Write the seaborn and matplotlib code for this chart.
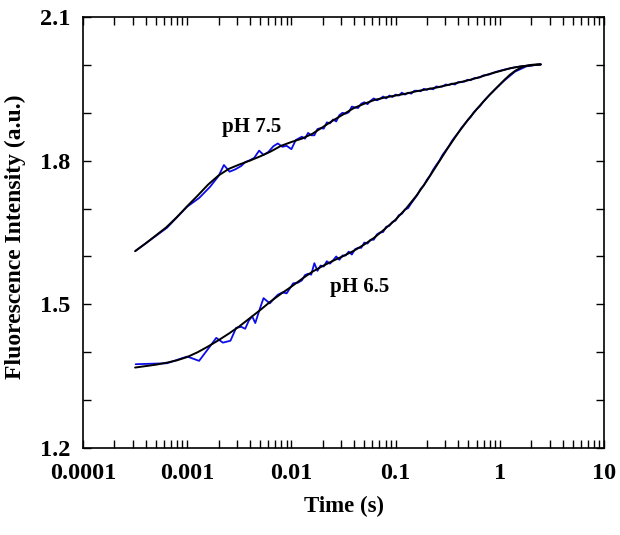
import numpy as np
import pandas as pd
import matplotlib
matplotlib.use("Agg")
import matplotlib.pyplot as plt
from matplotlib.ticker import LogLocator, FixedLocator, NullFormatter, MultipleLocator
import seaborn as sns

# ---------------- data ----------------
# fitted curves (black), sampled in time (s)
t_fit = [0.000316, 0.000398, 0.000501, 0.000631, 0.000794, 0.001, 0.001259, 0.001585,
         0.001995, 0.002512, 0.003162, 0.003981, 0.005012, 0.006310, 0.007943, 0.01,
         0.01259, 0.01585, 0.01995, 0.02512, 0.03162, 0.03981, 0.05012, 0.06310,
         0.07943, 0.1, 0.1259, 0.1585, 0.1995, 0.2512, 0.3162, 0.3981, 0.5012,
         0.6310, 0.7943, 1.0, 1.122, 1.259, 1.413, 1.585, 1.778, 1.995, 2.239, 2.47]
fit_75 = [1.611, 1.627, 1.644, 1.661, 1.682, 1.705, 1.727, 1.750, 1.769, 1.783, 1.792,
          1.800, 1.809, 1.819, 1.831, 1.839, 1.846, 1.856, 1.870, 1.884, 1.897, 1.910,
          1.919, 1.927, 1.932, 1.936, 1.940, 1.945, 1.949, 1.953, 1.958, 1.963, 1.968,
          1.974, 1.981, 1.987, 1.990, 1.993, 1.995, 1.997, 1.998, 1.999, 2.000, 2.001]
fit_65 = [1.368, 1.371, 1.374, 1.378, 1.383, 1.390, 1.400, 1.412, 1.425, 1.439, 1.454,
          1.471, 1.488, 1.506, 1.522, 1.537, 1.553, 1.568, 1.580, 1.591, 1.601, 1.612,
          1.625, 1.640, 1.658, 1.677, 1.700, 1.727, 1.758, 1.792, 1.826, 1.858, 1.887,
          1.913, 1.937, 1.959, 1.970, 1.980, 1.988, 1.994, 1.998, 2.000, 2.001, 2.001]

# measured traces (blue)
t_early_75 = [0.00032, 0.00064, 0.0010, 0.0013, 0.00165, 0.0020, 0.00225, 0.00255,
              0.0029, 0.0033, 0.0036, 0.0040, 0.0044, 0.0049, 0.0054, 0.0060, 0.0067,
              0.0074, 0.0082, 0.0090, 0.0100, 0.0110]
y_early_75 = [1.612, 1.660, 1.704, 1.722, 1.745, 1.768, 1.791, 1.777, 1.782, 1.789,
              1.797, 1.801, 1.806, 1.821, 1.812, 1.818, 1.830, 1.836, 1.829, 1.831,
              1.824, 1.843]
t_early_65 = [0.00032, 0.00064, 0.0010, 0.0013, 0.0016, 0.0019, 0.0022, 0.0026,
              0.00295, 0.0033, 0.0036, 0.0039, 0.0042, 0.0045, 0.0050, 0.0054, 0.0062,
              0.0068, 0.0074, 0.0082, 0.0090, 0.0104, 0.0115]
y_early_65 = [1.375, 1.377, 1.391, 1.382, 1.408, 1.430, 1.420, 1.424, 1.451, 1.453,
              1.449, 1.466, 1.475, 1.461, 1.492, 1.513, 1.502, 1.512, 1.520, 1.525,
              1.523, 1.544, 1.545]
t_dense = [0.01259, 0.01349, 0.01445, 0.01549, 0.01660, 0.01778, 0.01905, 0.02042,
           0.02188, 0.02344, 0.02512, 0.02692, 0.02884, 0.03090, 0.03311, 0.03548,
           0.03802, 0.04074, 0.04365, 0.04677, 0.05012, 0.05370, 0.05754, 0.06166,
           0.06607, 0.07079, 0.07586, 0.08128, 0.08710, 0.09333, 0.1000, 0.1072,
           0.1148, 0.1230, 0.1318, 0.1413, 0.1514, 0.1622, 0.1738, 0.1862, 0.1995,
           0.2138, 0.2291, 0.2455, 0.2630, 0.2818, 0.3020, 0.3236, 0.3467, 0.3715,
           0.3981, 0.4266, 0.4571, 0.4898, 0.5248, 0.5623, 0.6026, 0.6457, 0.6918,
           0.7413, 0.7943]
y_dense_75 = [1.850, 1.846, 1.858, 1.853, 1.853, 1.866, 1.868, 1.867, 1.880, 1.878,
              1.886, 1.882, 1.895, 1.900, 1.898, 1.901, 1.913, 1.911, 1.910, 1.919,
              1.922, 1.918, 1.925, 1.930, 1.926, 1.929, 1.934, 1.930, 1.936, 1.933,
              1.938, 1.936, 1.942, 1.938, 1.942, 1.940, 1.946, 1.946, 1.945, 1.950,
              1.948, 1.951, 1.949, 1.955, 1.954, 1.955, 1.959, 1.958, 1.961, 1.959,
              1.964, 1.964, 1.965, 1.969, 1.968, 1.972, 1.973, 1.974, 1.978, 1.979,
              1.980]
y_dense_65 = [1.550, 1.561, 1.564, 1.562, 1.586, 1.570, 1.581, 1.579, 1.590, 1.585,
              1.592, 1.600, 1.593, 1.602, 1.602, 1.610, 1.604, 1.615, 1.618, 1.618,
              1.629, 1.627, 1.635, 1.635, 1.646, 1.650, 1.651, 1.662, 1.664, 1.672,
              1.675, 1.686, 1.689, 1.698, 1.701, 1.711, 1.720, 1.729, 1.741, 1.748,
              1.760, 1.769, 1.781, 1.791, 1.800, 1.812, 1.821, 1.830, 1.841, 1.850,
              1.858, 1.868, 1.876, 1.884, 1.891, 1.901, 1.908, 1.914, 1.923, 1.930,
              1.937]
t_tail = [0.9, 1.1, 1.4, 1.8, 2.2, 2.47]
y_tail_75 = [1.985, 1.990, 1.995, 1.998, 2.000, 2.001]
y_tail_65 = [1.949, 1.967, 1.986, 1.997, 2.000, 2.001]

series_labels = ["pH 7.5", "pH 6.5"]
x_tick_vals = [0.0001, 0.001, 0.01, 0.1, 1, 10]
x_tick_labels = ["0.0001", "0.001", "0.01", "0.1", "1", "10"]
y_tick_vals = [1.2, 1.5, 1.8, 2.1]
y_tick_labels = ["1.2", "1.5", "1.8", "2.1"]

# ---------------- tables ----------------
blue_75 = pd.DataFrame({"t": t_early_75 + t_dense + t_tail,
                        "y": y_early_75 + y_dense_75 + y_tail_75, "s": series_labels[0]})
blue_65 = pd.DataFrame({"t": t_early_65 + t_dense + t_tail,
                        "y": y_early_65 + y_dense_65 + y_tail_65, "s": series_labels[1]})
blue = pd.concat([blue_75, blue_65], ignore_index=True)
fit = pd.concat([pd.DataFrame({"t": t_fit, "y": fit_75, "s": series_labels[0]}),
                 pd.DataFrame({"t": t_fit, "y": fit_65, "s": series_labels[1]})],
                ignore_index=True)

# ---------------- style ----------------
sns.set_style("ticks")
plt.rcParams["font.family"] = ["Liberation Serif", "DejaVu Serif"]
plt.rcParams["font.weight"] = "bold"
plt.rcParams["axes.labelweight"] = "bold"
plt.rcParams["text.color"] = "black"
plt.rcParams["axes.labelcolor"] = "black"
plt.rcParams["xtick.color"] = "black"
plt.rcParams["ytick.color"] = "black"
plt.rcParams["axes.edgecolor"] = "black"

fig = plt.figure(figsize=(6.2, 5.35), dpi=100)
ax = fig.add_axes([0.1339, 0.1626, 0.8403, 0.8056])

sns.lineplot(data=blue, x="t", y="y", units="s", estimator=None, sort=False,
             color="#0c0ce8", lw=1.3, ax=ax, legend=False)
sns.lineplot(data=fit, x="t", y="y", units="s", estimator=None, sort=False,
             color="black", lw=1.4, ax=ax, legend=False)

ax.set_xscale("log")
ax.set_xlim(0.0001, 10)
ax.set_ylim(1.2, 2.1)

ax.xaxis.set_major_locator(FixedLocator(x_tick_vals))
ax.set_xticklabels(x_tick_labels)
ax.xaxis.set_minor_locator(LogLocator(base=10, subs=np.arange(2, 10)))
ax.xaxis.set_minor_formatter(NullFormatter())
ax.yaxis.set_major_locator(FixedLocator(y_tick_vals))
ax.set_yticklabels(y_tick_labels)
ax.yaxis.set_minor_locator(MultipleLocator(0.1))

ax.tick_params(which="both", direction="in", length=6, width=1.0,
               top=True, right=True, colors="black")
ax.tick_params(axis="x", which="major", labelsize=17.5, pad=11, labelcolor="black")
ax.tick_params(axis="y", which="major", labelsize=17.5, pad=9, labelcolor="black")
for lab in ax.get_xticklabels() + ax.get_yticklabels():
    lab.set_fontweight("bold")

for sp in ax.spines.values():
    sp.set_visible(True)
    sp.set_linewidth(1.2)
    sp.set_color("black")

ax.set_xlabel("Time (s)", fontsize=16.5, fontweight="bold", color="black")
ax.set_ylabel("Fluorescence Intensity (a.u.)", fontsize=17, fontweight="bold",
              color="black")
ax.xaxis.set_label_coords(0.5, -0.136)
ax.xaxis.label.set_verticalalignment("center")
ax.yaxis.set_label_coords(-0.1305, 0.49)
ax.yaxis.label.set_verticalalignment("center")

ax.text(0.00416, 1.871, series_labels[0], fontsize=15, fontweight="bold",
        ha="center", va="center", color="black")
ax.text(0.0449, 1.537, series_labels[1], fontsize=15, fontweight="bold",
        ha="center", va="center", color="black")

fig.savefig("out.png", dpi=100)
